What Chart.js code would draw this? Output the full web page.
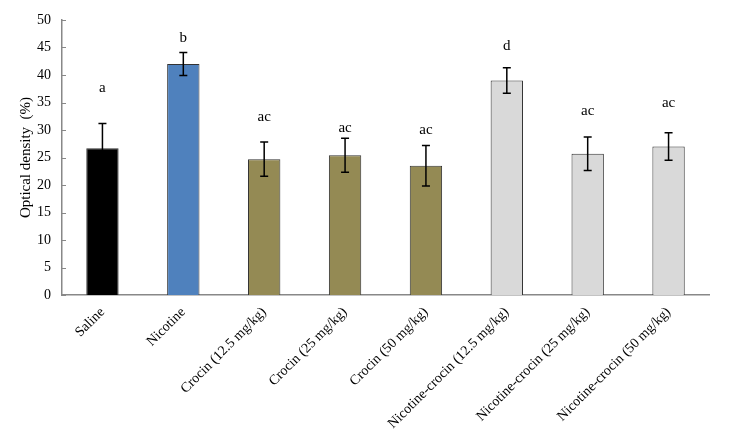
<!DOCTYPE html>
<html>
<head>
<meta charset="utf-8">
<script src="https://cdn.jsdelivr.net/npm/chart.js@4"></script>
<style>
  html, body { margin: 0; padding: 0; background: #fff; }
  #wrap { width: 736px; height: 436px; }
</style>
</head>
<body>
<div id="wrap"><canvas id="chart_od"></canvas></div>
<script>
// data
const groups = ["Saline", "Nicotine", "Crocin (12.5 mg/kg)", "Crocin (25 mg/kg)", "Crocin (50 mg/kg)",
  "Nicotine-crocin (12.5 mg/kg)", "Nicotine-crocin (25 mg/kg)", "Nicotine-crocin (50 mg/kg)"];
const density = [26.7, 42.0, 24.7, 25.4, 23.5, 39.0, 25.7, 27.0];
const sem = [4.5, 2.1, 3.1, 3.1, 3.7, 2.3, 3.05, 2.5];
const letters = ["a", "b", "ac", "ac", "ac", "d", "ac", "ac"];
const letterAt = [37.7, 46.8, 32.4, 30.4, 29.9, 45.2, 33.4, 34.9];
const barColors = ["#000000", "#4F81BD", "#948A54", "#948A54", "#948A54", "#D9D9D9", "#D9D9D9", "#D9D9D9"];

const FONT = "'Liberation Serif', 'Times New Roman', serif";

// error bars, letters and inner tick marks
const extras = {
  id: "extras",
  afterDatasetsDraw(chart) {
    const ctx = chart.ctx;
    const x = chart.scales.x, y = chart.scales.y;
    ctx.save();
    ctx.strokeStyle = "#000";
    ctx.lineWidth = 1.5;
    density.forEach((v, i) => {
      const px = x.getPixelForValue(i);
      const hi = y.getPixelForValue(v + sem[i]);
      const lo = y.getPixelForValue(v - sem[i]);
      ctx.beginPath();
      ctx.moveTo(px, hi); ctx.lineTo(px, lo);
      ctx.moveTo(px - 4, hi); ctx.lineTo(px + 4, hi);
      ctx.moveTo(px - 4, lo); ctx.lineTo(px + 4, lo);
      ctx.stroke();
      ctx.fillStyle = "#000";
      ctx.font = "15px " + FONT;
      ctx.textAlign = "center";
      ctx.textBaseline = "middle";
      ctx.fillText(letters[i], px, y.getPixelForValue(letterAt[i]));
    });
    ctx.strokeStyle = "#888";
    ctx.lineWidth = 1;
    y.ticks.forEach(t => {
      const py = Math.round(y.getPixelForValue(t.value)) + 0.5;
      ctx.beginPath();
      ctx.moveTo(y.right, py); ctx.lineTo(y.right + 4, py);
      ctx.stroke();
    });
    ctx.restore();
  }
};

let odChart = new Chart(document.getElementById("chart_od"), {
  type: "bar",
  data: {
    labels: groups,
    datasets: [{
      data: density,
      backgroundColor: barColors,
      borderColor: "#333",
      borderWidth: 1,
      categoryPercentage: 1,
      barPercentage: 0.4
    }]
  },
  options: {
    responsive: true,
    maintainAspectRatio: false,
    animation: false,
    layout: { padding: { top: 20, right: 27, left: 0, bottom: 0 } },
    plugins: { legend: { display: false }, tooltip: { enabled: false } },
    scales: {
      x: {
        grid: { display: false },
        border: { display: true, color: "#888", width: 1.5 },
        ticks: {
          color: "#000",
          font: { family: FONT, size: 14 },
          minRotation: 45,
          maxRotation: 45,
          padding: 1,
          autoSkip: false
        },
        afterFit: s => { s.height = 141; }
      },
      y: {
        min: 0,
        max: 50,
        grid: { display: false },
        border: { display: true, color: "#888", width: 1.5 },
        ticks: {
          stepSize: 5,
          color: "#000",
          font: { family: FONT, size: 14 },
          padding: 3
        },
        title: {
          display: true,
          text: "Optical density  (%)",
          color: "#000",
          font: { family: FONT, size: 15 },
          padding: { top: 17, bottom: 0 }
        },
        afterFit: s => { s.width = 62; }
      }
    }
  },
  plugins: [extras]
});
</script>
</body>
</html>
